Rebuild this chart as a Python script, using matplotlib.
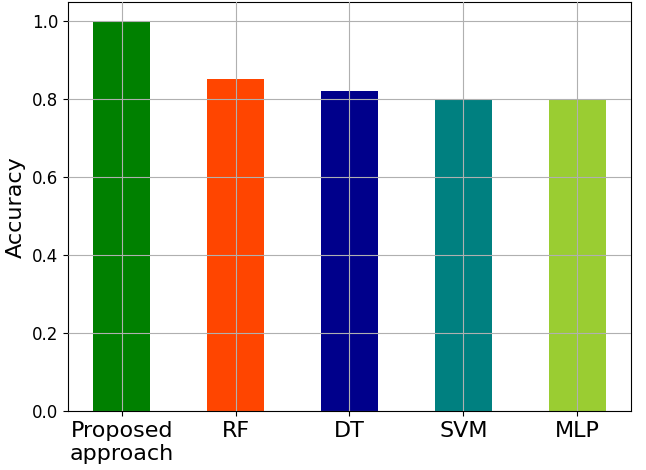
import matplotlib
matplotlib.use('Agg')
import matplotlib.pyplot as plt

# model names and accuracies
models = ['Proposed\napproach', 'RF', 'DT', 'SVM', 'MLP']
accuracy = [0.997, 0.85, 0.821, 0.798, 0.798]
colors = ['green', 'orangered', 'darkblue', 'teal', 'yellowgreen']

fig, ax = plt.subplots(figsize=(6.46, 4.70), dpi=100)
fig.subplots_adjust(left=0.105, right=0.977, top=0.995, bottom=0.125)

ax.bar(range(len(models)), accuracy, width=0.5, color=colors)
ax.set_xticks(range(len(models)))
ax.set_xticklabels(models, fontsize=16, multialignment='center')
ax.tick_params(axis='y', labelsize=12)
ax.set_ylabel('Accuracy', fontsize=16)
ax.set_axisbelow(False)
ax.grid(True, color='#b0b0b0', linewidth=0.8)

plt.savefig('out.png')
